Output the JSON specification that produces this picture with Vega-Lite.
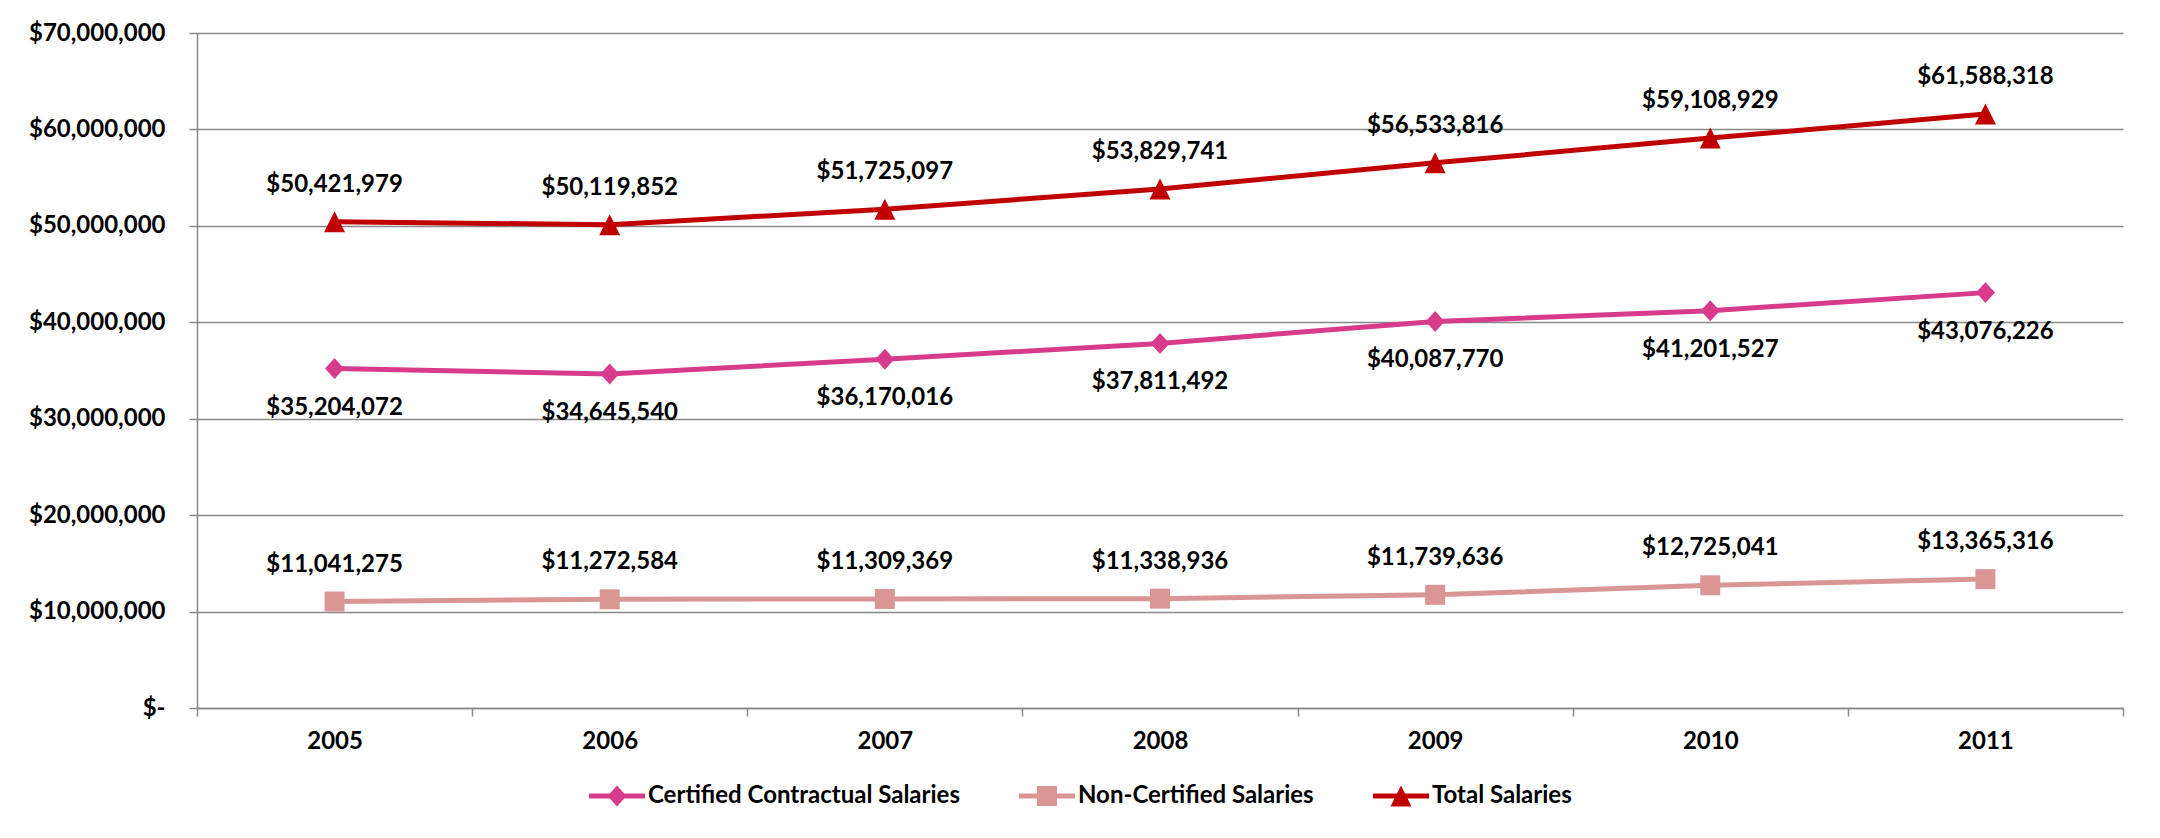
{
  "$schema": "https://vega.github.io/schema/vega-lite/v6.json",
  "width": 1926,
  "height": 675,
  "autosize": {"type": "none"},
  "padding": {"left": 197, "top": 33, "right": 37, "bottom": 130},
  "background": "white",
  "config": {
    "view": {"stroke": null},
    "font": "Lato",
    "axis": {
      "labelFont": "Lato", "labelFontSize": 24, "labelFontWeight": "bold", "labelColor": "#000000",
      "domainColor": "#898989", "domainWidth": 1.5, "tickColor": "#898989", "tickWidth": 1.5,
      "gridColor": "#898989", "gridWidth": 1.3, "title": null
    }
  },
  "data": {
    "values": [
      {"year": 2005, "series": "Certified Contractual Salaries", "value": 35204072},
      {"year": 2006, "series": "Certified Contractual Salaries", "value": 34645540},
      {"year": 2007, "series": "Certified Contractual Salaries", "value": 36170016},
      {"year": 2008, "series": "Certified Contractual Salaries", "value": 37811492},
      {"year": 2009, "series": "Certified Contractual Salaries", "value": 40087770},
      {"year": 2010, "series": "Certified Contractual Salaries", "value": 41201527},
      {"year": 2011, "series": "Certified Contractual Salaries", "value": 43076226},
      {"year": 2005, "series": "Non-Certified Salaries", "value": 11041275},
      {"year": 2006, "series": "Non-Certified Salaries", "value": 11272584},
      {"year": 2007, "series": "Non-Certified Salaries", "value": 11309369},
      {"year": 2008, "series": "Non-Certified Salaries", "value": 11338936},
      {"year": 2009, "series": "Non-Certified Salaries", "value": 11739636},
      {"year": 2010, "series": "Non-Certified Salaries", "value": 12725041},
      {"year": 2011, "series": "Non-Certified Salaries", "value": 13365316},
      {"year": 2005, "series": "Total Salaries", "value": 50421979},
      {"year": 2006, "series": "Total Salaries", "value": 50119852},
      {"year": 2007, "series": "Total Salaries", "value": 51725097},
      {"year": 2008, "series": "Total Salaries", "value": 53829741},
      {"year": 2009, "series": "Total Salaries", "value": 56533816},
      {"year": 2010, "series": "Total Salaries", "value": 59108929},
      {"year": 2011, "series": "Total Salaries", "value": 61588318}
    ]
  },
  "encoding": {
    "x": {
      "field": "year", "type": "quantitative",
      "scale": {"domain": [2004.5, 2011.5], "nice": false, "zero": false},
      "axis": {
        "values": [2004.5, 2005, 2005.5, 2006, 2006.5, 2007, 2007.5, 2008, 2008.5, 2009, 2009.5, 2010, 2010.5, 2011, 2011.5],
        "grid": false, "tickSize": 8,
        "tickOpacity": {"condition": {"test": "datum.value % 1 != 0", "value": 1}, "value": 0},
        "labelExpr": "datum.value % 1 == 0 ? format(datum.value, 'd') : ''",
        "labelPadding": 25, "labelBaseline": "middle", "labelFlush": false, "labelOverlap": false, "title": null
      }
    },
    "y": {
      "field": "value", "type": "quantitative",
      "scale": {"domain": [0, 70000000], "nice": false},
      "axis": {
        "values": [0, 10000000, 20000000, 30000000, 40000000, 50000000, 60000000, 70000000],
        "grid": true, "tickSize": 8, "labelPadding": 24,
        "labelExpr": "datum.value == 0 ? '$-' : format(datum.value, '$,.0f')",
        "encode": {"labels": {"dx": {"condition": {"test": "datum.value == 0", "value": -12}, "value": 0}}},
        "title": null
      }
    }
  },
  "layer": [
    {
      "mark": {"type": "line", "strokeWidth": 5},
      "encoding": {
        "color": {
          "field": "series", "type": "nominal",
          "scale": {"domain": ["Certified Contractual Salaries", "Non-Certified Salaries", "Total Salaries"], "range": ["#D63C8B", "#DA9694", "#C00000"]},
          "legend": {
            "title": null, "orient": "none", "legendX": 392, "legendY": 735, "direction": "horizontal",
            "columnPadding": 59, "labelFont": "Lato", "labelFontSize": 24, "labelFontWeight": "bold",
            "labelColor": "#000000", "labelOffset": 3, "padding": 0, "labelLimit": 0,
            "symbolSize": 3136, "symbolStrokeWidth": 0, "symbolOpacity": 1,
            "encode": {
              "symbols": {
                "update": {
                  "shape": {"signal": "datum.value == 'Total Salaries' ? 'M-1,-0.09L-0.1425,-0.09L0,-0.375L0.1425,-0.09L1,-0.09L1,0.09L0.2325,0.09L0.375,0.375L-0.375,0.375L-0.2325,0.09L-1,0.09Z' : datum.value == 'Non-Certified Salaries' ? 'M-1,-0.09L-0.357,-0.09L-0.357,-0.357L0.357,-0.357L0.357,-0.09L1,-0.09L1,0.09L0.357,0.09L0.357,0.357L-0.357,0.357L-0.357,0.09L-1,0.09Z' : 'M-1,-0.09L-0.258,-0.09L0,-0.375L0.258,-0.09L1,-0.09L1,0.09L0.258,0.09L0,0.375L-0.258,0.09L-1,0.09Z'"},
                  "fill": {"scale": "color", "field": "value"},
                  "stroke": {"value": "transparent"},
                  "strokeWidth": {"value": 0},
                  "opacity": {"value": 1}
                }
              }
            }
          }
        }
      }
    },
    {
      "mark": {"type": "point", "filled": true, "size": 3721, "opacity": 1, "strokeWidth": 0},
      "encoding": {
        "color": {"field": "series", "type": "nominal", "legend": null},
        "shape": {
          "field": "series", "type": "nominal", "legend": null,
          "scale": {"range": ["M0,-0.344L0.311,0L0,0.344L-0.311,0Z", "M-0.328,-0.328L0.328,-0.328L0.328,0.328L-0.328,0.328Z", "M0,-0.344L0.344,0.344L-0.344,0.344Z"]}
        }
      }
    },
    {
      "transform": [{"filter": "datum.series != 'Certified Contractual Salaries'"}],
      "mark": {"type": "text", "dy": -37, "font": "Lato", "fontSize": 24, "fontWeight": "bold", "color": "#000000", "baseline": "middle", "align": "center"},
      "encoding": {"text": {"field": "value", "type": "quantitative", "format": "$,.0f"}}
    },
    {
      "transform": [{"filter": "datum.series == 'Certified Contractual Salaries'"}],
      "mark": {"type": "text", "dy": 39, "font": "Lato", "fontSize": 24, "fontWeight": "bold", "color": "#000000", "baseline": "middle", "align": "center"},
      "encoding": {"text": {"field": "value", "type": "quantitative", "format": "$,.0f"}}
    }
  ]
}
